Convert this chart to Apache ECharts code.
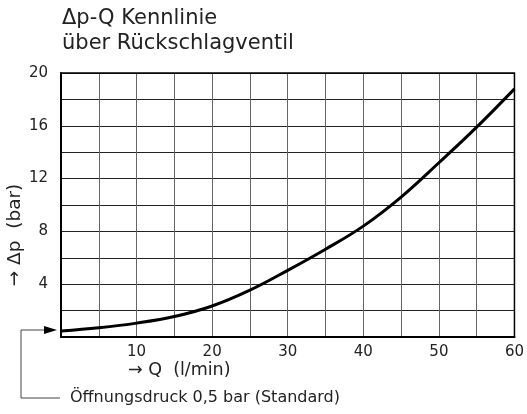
<!DOCTYPE html>
<html><head><meta charset="utf-8">
<script src="https://cdn.jsdelivr.net/npm/echarts@6/dist/echarts.min.js"></script>
<style>html,body{margin:0;padding:0;background:#fff}#c{width:527px;height:414px}</style>
</head><body><div id="c"></div>
<script>
var flowQ = [0, 5, 10, 15, 20, 25, 30, 35, 40, 45, 50, 55, 60];
var deltaP = [0.45, 0.7, 1.05, 1.55, 2.35, 3.55, 5.05, 6.65, 8.4, 10.6, 13.2, 15.9, 18.8];
var openingPressure = 0.5;
var titleLines = ['\u0394p-Q Kennlinie', '\u00fcber R\u00fcckschlagventil'];
var xName = '\u2192 Q  (l/min)';
var yName = '\u2192 \u0394p  (bar)';
var noteText = '\u00d6ffnungsdruck 0,5 bar (Standard)';

var FONT = '"DejaVu Sans", sans-serif';
var chart = echarts.init(document.getElementById('c'), null, {renderer: 'canvas'});
var pts = flowQ.map(function (q, i) { return [q, deltaP[i]]; });

chart.setOption({
  animation: false,
  textStyle: {fontFamily: FONT},
  grid: {left: 61, right: 12, top: 73, bottom: 77, containLabel: false},
  xAxis: {
    type: 'value', min: 0, max: 60, interval: 5,
    axisLine: {show: true, lineStyle: {color: '#000', width: 2}},
    axisTick: {show: false},
    axisLabel: {
      color: '#222', fontSize: 15, margin: 8, fontFamily: FONT,
      formatter: function (v) { return (v > 0 && v % 10 === 0) ? String(v) : ''; }
    },
    splitLine: {show: true, lineStyle: {color: '#666', width: 1}}
  },
  yAxis: {
    type: 'value', min: 0, max: 20, interval: 2,
    axisLine: {show: true, lineStyle: {color: '#000', width: 2}},
    axisTick: {show: false},
    axisLabel: {
      color: '#222', fontSize: 15, margin: 13, fontFamily: FONT,
      formatter: function (v) { return (v > 0 && v % 4 === 0) ? String(v) : ''; }
    },
    splitLine: {show: true, lineStyle: {color: '#222', width: 1}}
  },
  series: [{
    type: 'line', data: pts, smooth: 0.4, showSymbol: false,
    lineStyle: {color: '#000', width: 3}
  }]
});

function draw() {
  var p0 = chart.convertToPixel({gridIndex: 0}, [0, openingPressure]);
  var pTop = chart.convertToPixel({gridIndex: 0}, [0, 20]);
  var pRight = chart.convertToPixel({gridIndex: 0}, [60, 0]);
  var ay = Math.round(p0[1]);
  var ax = p0[0];
  chart.setOption({
    graphic: [
      {type: 'rect', shape: {x: ax, y: pTop[1], width: pRight[0] - ax, height: pRight[1] - pTop[1]},
        style: {fill: 'none', stroke: '#000', lineWidth: 1.5}, silent: true, z: 3},
      {type: 'text', x: 62, y: 19, style: {text: titleLines[0], font: '21px ' + FONT, fill: '#222', verticalAlign: 'middle'}},
      {type: 'text', x: 62, y: 44, style: {text: titleLines[1], font: '21px ' + FONT, fill: '#222', verticalAlign: 'middle'}},
      {type: 'text', x: 15, y: 235, rotation: Math.PI / 2, style: {text: yName, font: '18.5px ' + FONT, fill: '#222', align: 'center', verticalAlign: 'middle'}},
      {type: 'text', x: 128, y: 370, style: {text: xName, font: '17.5px ' + FONT, fill: '#222', verticalAlign: 'middle'}},
      {type: 'polyline', shape: {points: [[ax - 16, ay], [21, ay], [21, 398], [60, 398]]},
        style: {stroke: '#444', lineWidth: 1, fill: 'none'}, z: 5},
      {type: 'polygon', shape: {points: [[ax - 4, ay], [ax - 17, ay - 4], [ax - 17, ay + 4]]},
        style: {fill: '#000'}, z: 5},
      {type: 'text', x: 70, y: 398, style: {text: noteText, font: '16px ' + FONT, fill: '#222', verticalAlign: 'middle'}}
    ]
  });
}
draw();
</script></body></html>
